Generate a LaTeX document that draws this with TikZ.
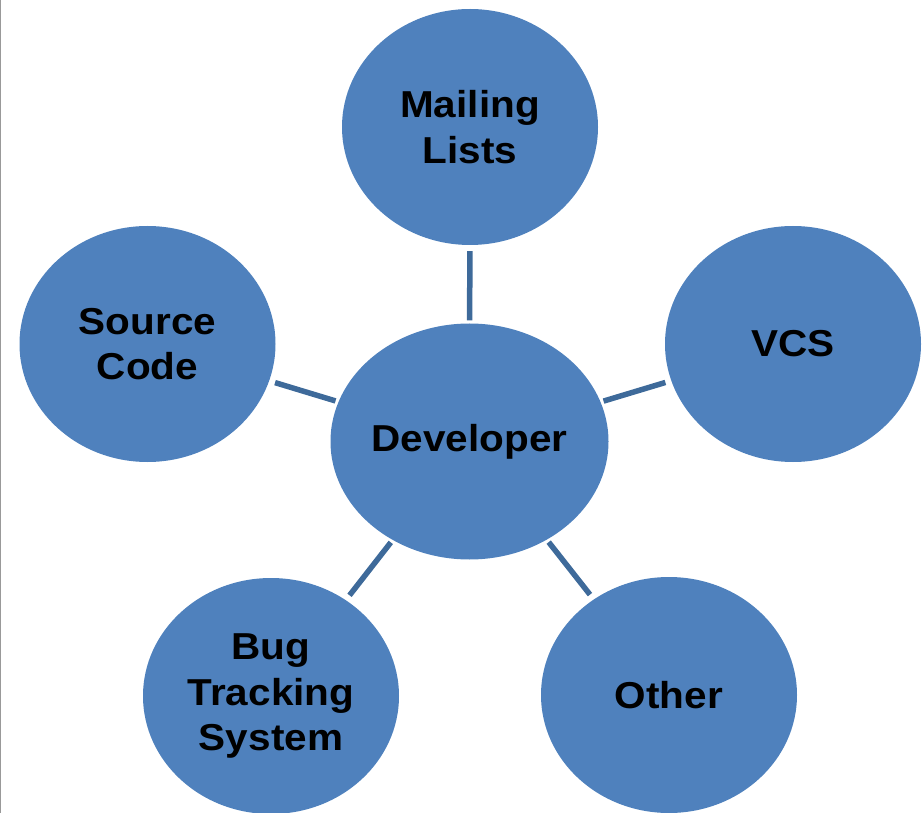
\documentclass[tikz,border=0pt]{standalone}
\usepackage{fontspec}
\setmainfont{Liberation Sans}[FakeStretch=1.08]
\usetikzlibrary{shapes.geometric}
\definecolor{bubblefill}{RGB}{79,129,189}
\definecolor{linkblue}{RGB}{62,106,154}
\tikzset{
	bubble/.style={ellipse,fill=bubblefill,minimum width=256pt,minimum height=236pt,inner sep=0pt,align=center,font=\bfseries\fontsize{37.5}{45.5}\selectfont},
	link/.style={draw=linkblue,line width=5.5pt,shorten <=3pt,shorten >=6pt}
}
\begin{document}
\begin{tikzpicture}[x=1pt,y=-1pt]
		\useasboundingbox (0,0) rectangle (922,813);
		\draw[gray!80,line width=1.2pt] (0.6,0)--(0.6,813);
		\node[bubble,minimum width=278pt](dev) at (469.5,441.5) {Developer};
		\node[bubble](mail) at (470,127) {Mailing\\Lists};
		\node[bubble](src) at (147.5,344) {Source\\Code};
		\node[bubble](vcs) at (793,344) {VCS};
		\node[bubble](bug) at (271,696) {Bug\\Tracking\\System};
		\node[bubble](oth) at (669,695) {Other};
		\draw[link] (dev)--(mail);
		\draw[link] (dev)--(src);
		\draw[link] (dev)--(vcs);
		\draw[link] (dev)--(bug);
		\draw[link] (dev)--(oth);
	\end{tikzpicture}
\end{document}
